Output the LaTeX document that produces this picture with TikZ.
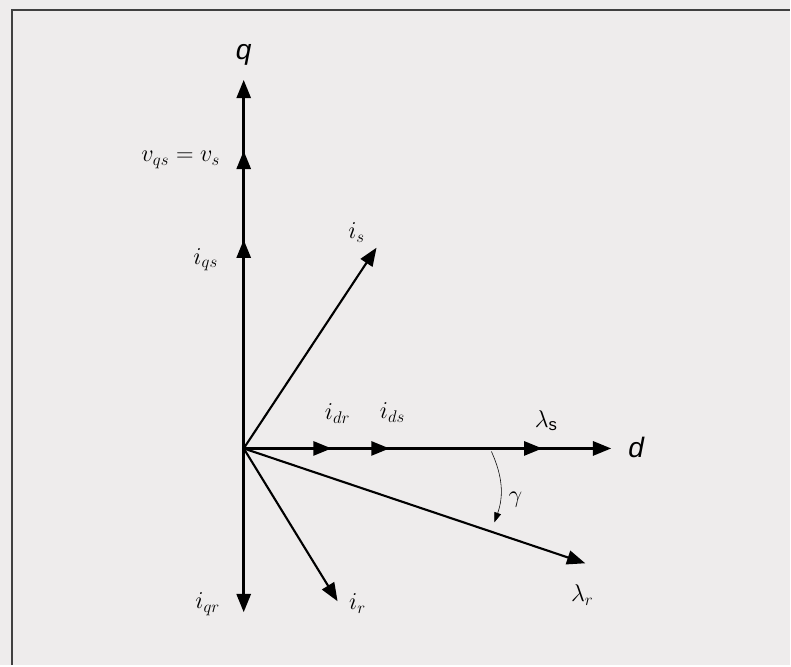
\documentclass[tikz,border=0pt]{standalone}
\usepackage{fontspec}
\setsansfont{Liberation Sans}
\usetikzlibrary{arrows.meta}
\definecolor{paper}{RGB}{238,236,236}
\tikzset{
  phasor/.style={color=black, line width=1.9pt, -{Triangle[length=13pt,width=10pt]}},
  lbl/.style={font=\fontsize{17}{19}\selectfont},
  axlbl/.style={font=\fontsize{20}{22}\selectfont\sffamily\itshape},
}
\begin{document}
\begin{tikzpicture}[x=0.025cm,y=-0.025cm]
\fill[paper] (0,0) rectangle (791,666);
\draw[color=black!75, line width=1.4pt] (12,666) -- (12,10) -- (791,10);
\coordinate (O) at (244,449);
% q axis
\coordinate (q) at (244,80);
\coordinate (vqs) at (244,151);
\coordinate (iqs) at (244,240);
\coordinate (iqr) at (244,613);
% d axis
\coordinate (d) at (612,449);
\coordinate (lams) at (543,449);
\coordinate (ids) at (390,449);
\coordinate (idr) at (332,449);
% oblique vectors
\coordinate (is) at (377,248);
\coordinate (ir) at (338,602);
\coordinate (lamr) at (586,564);
\draw[phasor] (O) -- (q);
\draw[phasor] (O) -- (vqs);
\draw[phasor] (O) -- (iqs);
\draw[phasor] (O) -- (iqr);
\draw[phasor] (O) -- (d);
\draw[phasor] (O) -- (lams);
\draw[phasor] (O) -- (ids);
\draw[phasor] (O) -- (idr);
\draw[phasor, line width=1.5pt] (O) -- (is);
\draw[phasor, line width=1.5pt] (O) -- (ir);
\draw[phasor, line width=1.5pt] (O) -- (lamr);
% angle gamma
\coordinate (g1) at (492,452);
\coordinate (g2) at (495,523);
\draw[color=black, thin, -{Triangle[length=7pt,width=5pt]}] (g1) to[bend left=22] (g2);
\node[lbl] (lgam) at (516,500) {$\gamma$};
% labels
\node[axlbl] (lq) at (244,55) {q};
\node[axlbl] (ld) at (637,448) {d};
\node[lbl] (lvqs) at (181,160) {$v_{qs}=v_s$};
\node[lbl] (liqs) at (206,260) {$i_{qs}$};
\node[lbl] (lis) at (357,233) {$i_s$};
\node[lbl] (lidr) at (338,414) {$i_{dr}$};
\node[lbl] (lids) at (393,413) {$i_{ds}$};
\node[lbl] (llams) at (547,421) {$\lambda_{\mathsf{s}}$};
\node[lbl] (liqr) at (208,605) {$i_{qr}$};
\node[lbl] (lir) at (358,604) {$i_r$};
\node[lbl] (llamr) at (583,596) {$\lambda_r$};
\end{tikzpicture}
\end{document}
